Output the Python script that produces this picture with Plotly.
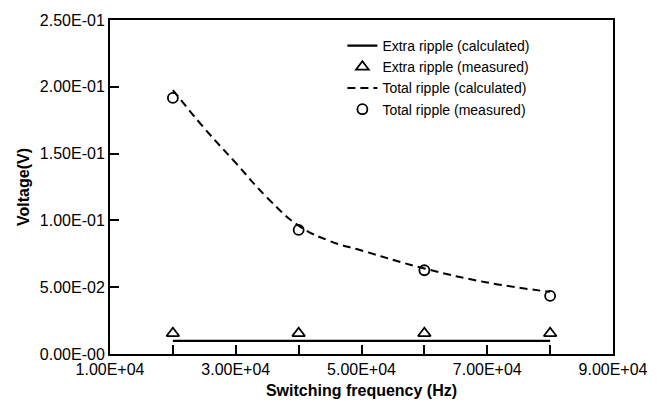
import plotly.graph_objects as go

# Data
freq_meas = [2.0e4, 4.0e4, 6.0e4, 8.0e4]
total_meas = [0.1917, 0.0929, 0.0627, 0.0435]
extra_meas = [0.0155, 0.0155, 0.0155, 0.0155]

freq_calc = [2.0e4, 2.5e4, 3.0e4, 3.5e4, 4.0e4, 4.5e4, 5.0e4, 6.0e4, 7.0e4, 8.0e4]
total_calc = [0.1976, 0.1690, 0.1430, 0.1170, 0.0960, 0.0845, 0.0775, 0.0640, 0.0535, 0.0465]

freq_extra_calc = [2.0e4, 8.0e4]
extra_calc = [0.0098, 0.0098]

x_tickvals = [1e4, 2e4, 3e4, 4e4, 5e4, 6e4, 7e4, 8e4, 9e4]
x_ticktext = ["1.00E+04", "", "3.00E+04", "", "5.00E+04", "", "7.00E+04", "", "9.00E+04"]
y_tickvals = [0, 0.05, 0.10, 0.15, 0.20, 0.25]
y_ticktext = ["0.00E-00", "5.00E-02", "1.00E-01", "1.50E-01", "2.00E-01", "2.50E-01"]

FONT = "Liberation Sans"

fig = go.Figure()
fig.add_trace(go.Scatter(
    x=freq_extra_calc, y=extra_calc, mode="lines",
    line=dict(color="black", width=2.2),
    name="Extra ripple (calculated)"))
fig.add_trace(go.Scatter(
    x=freq_meas, y=extra_meas, mode="markers",
    marker=dict(symbol="triangle-up-open", size=11, color="black", line=dict(width=1.8)),
    name="Extra ripple (measured)"))
fig.add_trace(go.Scatter(
    x=freq_calc, y=total_calc, mode="lines",
    line=dict(color="black", width=2, dash="8px,5px", shape="spline", smoothing=1.2),
    name="Total ripple (calculated)"))
fig.add_trace(go.Scatter(
    x=freq_meas, y=total_meas, mode="markers",
    marker=dict(symbol="circle-open", size=10, color="black", line=dict(width=1.8)),
    name="Total ripple (measured)"))

fig.update_layout(
    width=665, height=412,
    margin=dict(l=110, r=52, t=15, b=58),
    paper_bgcolor="white", plot_bgcolor="white",
    font=dict(family=FONT, size=15, color="black"),
    showlegend=True,
    legend=dict(
        x=0.462, y=0.97, xanchor="left", yanchor="top",
        bgcolor="rgba(0,0,0,0)", borderwidth=0,
        font=dict(family=FONT, size=14, color="black"),
        tracegroupgap=0, itemwidth=30,
    ),
)
fig.update_xaxes(
    range=[1e4, 9e4], tickmode="array", tickvals=x_tickvals, ticktext=x_ticktext,
    ticks="inside", ticklen=9, tickwidth=1.5, tickcolor="black",
    showline=True, linecolor="black", linewidth=2, mirror=True,
    showgrid=False, zeroline=False,
    tickfont=dict(family=FONT, size=16, color="black"),
    title=dict(text="<b>Switching frequency (Hz)</b>", font=dict(family=FONT, size=16), standoff=8),
)
fig.update_yaxes(
    range=[0, 0.25], tickmode="array", tickvals=y_tickvals, ticktext=y_ticktext,
    ticks="inside", ticklen=9, tickwidth=1.5, tickcolor="black",
    showline=True, linecolor="black", linewidth=2, mirror=True,
    showgrid=False, zeroline=False,
    tickfont=dict(family=FONT, size=16, color="black"),
    title=dict(text="<b>Voltage(V)</b>", font=dict(family=FONT, size=16), standoff=6),
)

fig.write_html("out.html")
